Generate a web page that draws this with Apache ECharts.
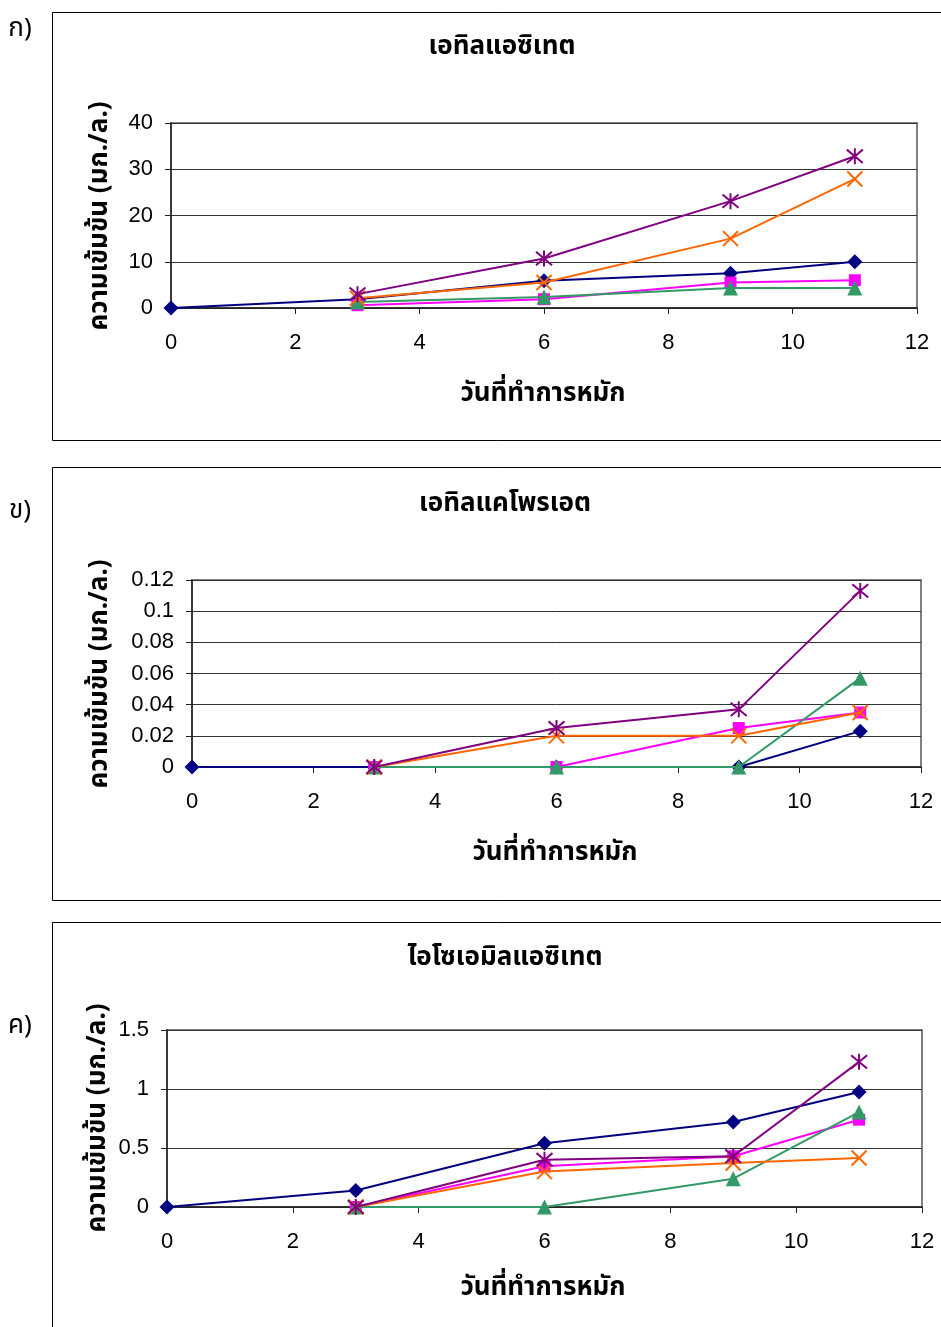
<!DOCTYPE html>
<html>
<head>
<meta charset="utf-8">
<script src="https://cdn.jsdelivr.net/npm/echarts@6/dist/echarts.min.js"></script>
<style>
  html, body { margin: 0; padding: 0; background: #fff; }
  #chart { width: 941px; height: 1327px; }
</style>
</head>
<body>
<div id="chart"></div>
<script>
// Fermentation days (x values)
const days = [0, 3, 6, 9, 11];
const xTicks = { min: 0, max: 12, interval: 2 };

// Panel ก) ethyl acetate (mg/L)
const eaNavy    = [0, 1.9, 5.9, 7.5, 10.0];
const eaMagenta = [null, 0.6, 1.9, 5.5, 6.0];
const eaGreen   = [null, 1.3, 2.4, 4.3, 4.3];
const eaOrange  = [null, 2.1, 5.5, 15.0, 27.9];
const eaPurple  = [null, 3.0, 10.7, 23.1, 32.8];

// Panel ข) ethyl caproate (mg/L)
const ecNavy    = [0, 0, 0, 0, 0.023];
const ecMagenta = [null, 0, 0, 0.025, 0.035];
const ecGreen   = [null, 0, 0, 0, 0.057];
const ecOrange  = [null, 0, 0.02, 0.02, 0.035];
const ecPurple  = [null, 0, 0.025, 0.037, 0.113];

// Panel ค) isoamyl acetate (mg/L)
const iaNavy    = [0, 0.14, 0.54, 0.72, 0.975];
const iaMagenta = [null, 0, 0.345, 0.43, 0.74];
const iaGreen   = [null, 0, 0, 0.24, 0.805];
const iaOrange  = [null, 0, 0.30, 0.373, 0.415];
const iaPurple  = [null, 0, 0.40, 0.43, 1.23];

const titles = ['เอทิลแอซิเทต', 'เอทิลแคโพรเอต', 'ไอโซเอมิลแอซิเทต'];
const panelTags = ['ก)', 'ข)', 'ค)'];
const yName = 'ความเข้มข้น (มก./ล.)';
const xName = 'วันที่ทำการหมัก';
const yScales = [
  { min: 0, max: 40, interval: 10 },
  { min: 0, max: 0.12, interval: 0.02 },
  { min: 0, max: 1.5, interval: 0.5 }
];

const panelData = [
  [eaNavy, eaMagenta, eaGreen, eaOrange, eaPurple],
  [ecNavy, ecMagenta, ecGreen, ecOrange, ecPurple],
  [iaNavy, iaMagenta, iaGreen, iaOrange, iaPurple]
];

const FONT = '"Liberation Sans", Arial, sans-serif';
const THAI = 'Tahoma, "Noto Sans Thai", "Noto Sans", "DejaVu Sans", sans-serif';

// Marker styles per series
const styles = [
  { color: '#000080', symbol: 'diamond', size: 15, filled: true },
  { color: '#FF00FF', symbol: 'rect', size: 12, filled: true },
  { color: '#339966', symbol: 'triangle', size: 15, filled: true },
  { color: '#FF6600', symbol: 'path://M0,0L10,10M10,0L0,10', size: 15, filled: false },
  { color: '#800080', symbol: 'path://M0,0L10,10M10,0L0,10M5,-1L5,11', size: 16, filled: false }
];

// Panel layout (pixels)
const grids = [
  { left: 171, top: 123, width: 746, height: 185 },
  { left: 192, top: 580, width: 729, height: 187 },
  { left: 167, top: 1030, width: 755, height: 177 }
];
const boxes = [
  { y: 12, h: 428 },
  { y: 467, h: 433 },
  { y: 922, h: 420 }
];
const titlePos = [[502, 49], [505, 506], [505, 960]];
const xNamePos = [[543, 396], [555, 855], [543, 1290]];
const yNamePos = [[102, 216], [102, 674], [100, 1118]];
const tagPos = [[20, 31], [20, 513], [20, 1028]];

const option = {
  animation: false,
  backgroundColor: '#fff',
  grid: grids.map(g => Object.assign({
    show: true, borderColor: '#808080', borderWidth: 2, backgroundColor: 'transparent'
  }, g)),
  xAxis: grids.map((g, i) => ({
    type: 'value', gridIndex: i,
    min: xTicks.min, max: xTicks.max, interval: xTicks.interval,
    axisLine: { show: true, onZero: false, lineStyle: { color: '#222', width: 1.5 } },
    axisTick: { show: true, inside: false, length: 6, lineStyle: { color: '#222' } },
    axisLabel: { color: '#000', fontSize: 22, fontFamily: FONT, margin: 24 },
    splitLine: { show: false }
  })),
  yAxis: grids.map((g, i) => ({
    type: 'value', gridIndex: i,
    min: yScales[i].min, max: yScales[i].max, interval: yScales[i].interval,
    axisLine: { show: true, lineStyle: { color: '#222', width: 1.5 } },
    axisTick: { show: true, inside: false, length: 6, lineStyle: { color: '#222' } },
    axisLabel: { color: '#000', fontSize: 22, fontFamily: FONT, margin: 18 },
    splitLine: { show: true, lineStyle: { color: '#333', width: 1 } }
  })),
  series: [],
  graphic: []
};

panelData.forEach((list, p) => {
  list.forEach((vals, s) => {
    const st = styles[s];
    const data = [];
    vals.forEach((v, k) => { if (v !== null) data.push([days[k], v]); });
    option.series.push({
      type: 'line', xAxisIndex: p, yAxisIndex: p,
      data: data,
      symbol: st.symbol, symbolSize: st.size, showSymbol: true,
      lineStyle: { color: st.color, width: 2 },
      itemStyle: st.filled
        ? { color: st.color, borderWidth: 0 }
        : { color: 'rgba(0,0,0,0)', borderColor: st.color, borderWidth: 2 },
      z: 2 + s
    });
  });

  option.graphic.push(
    { type: 'rect', shape: { x: 52.5, y: boxes[p].y + 0.5, width: 1000, height: boxes[p].h },
      style: { fill: 'none', stroke: '#000', lineWidth: 1 }, silent: true, z: -1 },
    { type: 'text', x: tagPos[p][0], y: tagPos[p][1],
      style: { text: panelTags[p], font: '26px ' + THAI, fill: '#000', align: 'center', verticalAlign: 'middle' } },
    { type: 'text', x: titlePos[p][0], y: titlePos[p][1],
      style: { text: titles[p], font: 'bold 26px ' + THAI, fill: '#000', align: 'center', verticalAlign: 'middle' } },
    { type: 'text', x: xNamePos[p][0], y: xNamePos[p][1],
      style: { text: xName, font: 'bold 26px ' + THAI, fill: '#000', align: 'center', verticalAlign: 'middle' } },
    { type: 'text', x: yNamePos[p][0], y: yNamePos[p][1], rotation: Math.PI / 2,
      style: { text: yName, font: 'bold 26px ' + THAI, fill: '#000', align: 'center', verticalAlign: 'middle' } }
  );
});

const chart = echarts.init(document.getElementById('chart'), null, { renderer: 'canvas' });
chart.setOption(option);
</script>
</body>
</html>
